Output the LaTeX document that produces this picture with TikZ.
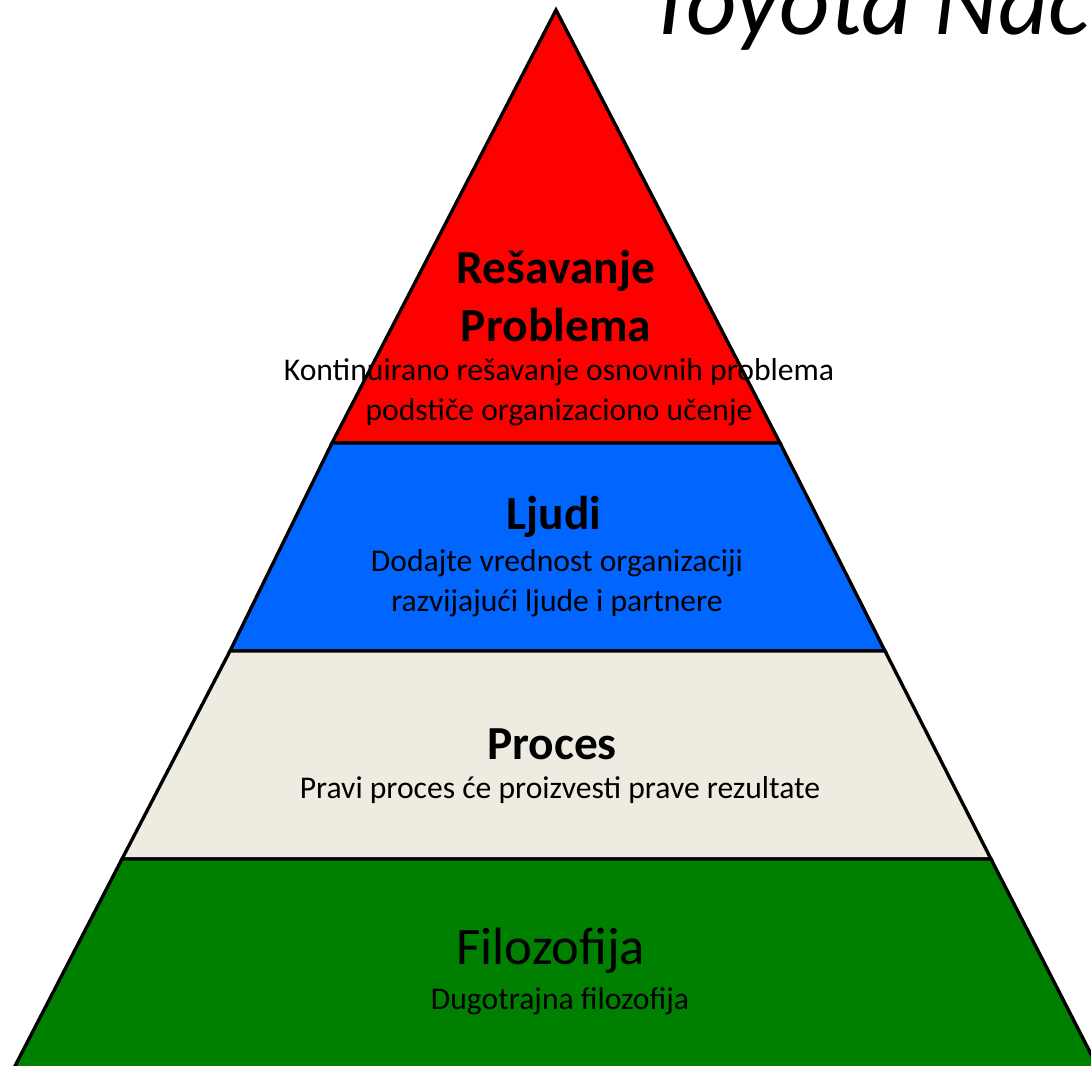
\documentclass[tikz,border=0pt]{standalone}
\usepackage{fontspec}
\setmainfont{Carlito}
\usetikzlibrary{positioning}

\definecolor{vrhred}{HTML}{FF0000}
\definecolor{ljudiblue}{HTML}{0066FF}
\definecolor{procesbeige}{HTML}{EEECE1}
\definecolor{filogreen}{HTML}{008000}

\tikzset{
  band/.style={draw=black,line width=1.9pt,line join=miter},
  heading/.style={font=\fontsize{27}{33}\selectfont\bfseries,align=center,inner sep=0pt},
  desc/.style={font=\fontsize{18}{22.7}\selectfont,align=center,inner sep=0pt},
}

\begin{document}
\begin{tikzpicture}[x=0.02cm,y=-0.02cm]
  \useasboundingbox (0,0) rectangle (1091,1065);
  \clip (0,0) rectangle (1091,1065);
  % bands of the pyramid, top to bottom
  \draw[band,fill=vrhred] (556,10) -- (780,443) -- (332,443) -- cycle;
  \draw[band,fill=ljudiblue] (332,443) -- (780,443) -- (885,651) -- (230,651) -- cycle;
  \draw[band,fill=procesbeige] (230,651) -- (885,651) -- (991,859) -- (122,859) -- cycle;
  \draw[band,fill=filogreen] (122,859) -- (991,859) -- (1112,1095) -- (0,1095) -- cycle;
  % title, cut by the page edge
  \node[font=\fontsize{56}{64}\selectfont\itshape,anchor=base west,inner sep=0pt] (naslov) at (646,34) {Toyota Način};
  % texts
  \node[heading] (resavanje) at (556,296) {Rešavanje\\Problema};
  \node[desc] (resavanjeopis) at (559,392) {Kontinuirano rešavanje osnovnih problema\\podstiče organizaciono učenje};
  \node[heading] (ljudi) at (554,517) {Ljudi};
  \node[desc] (ljudiopis) at (557,583) {Dodajte vrednost organizaciji\\razvijajući ljude i partnere};
  \node[heading] (proces) at (552,744) {Proces};
  \node[desc] (procesopis) at (560,790) {Pravi proces će proizvesti prave rezultate};
  \node[heading,font=\fontsize{30}{36}\selectfont] (filozofija) at (551,951) {Filozofija};
  \node[desc] (filozofijaopis) at (560,1001) {Dugotrajna filozofija};
\end{tikzpicture}
\end{document}
